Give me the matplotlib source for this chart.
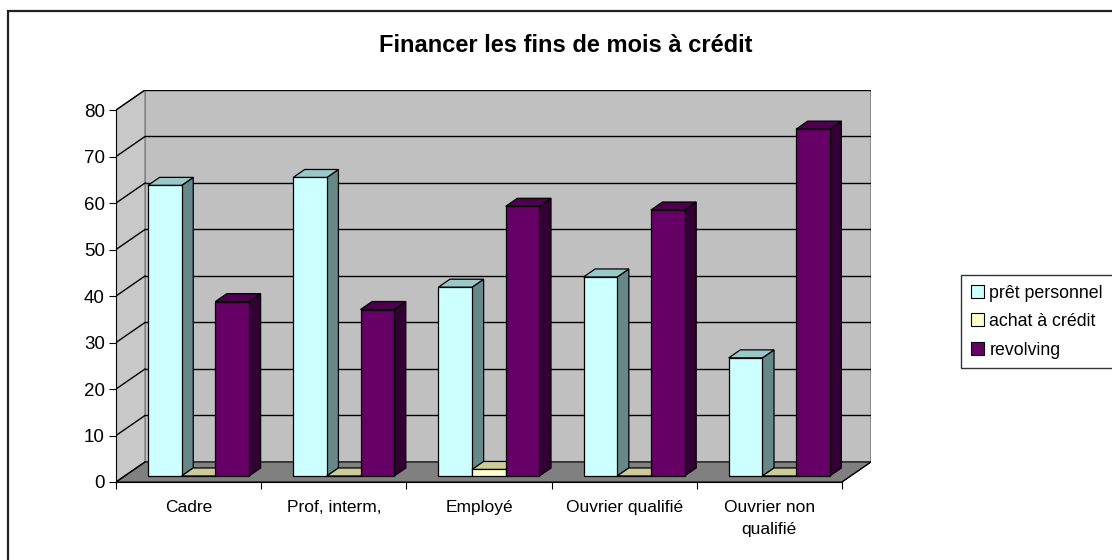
import matplotlib
matplotlib.use("Agg")
import matplotlib.pyplot as plt
from matplotlib.patches import Polygon, Rectangle, Patch

plt.rcParams['font.family'] = ['Liberation Sans', 'DejaVu Sans']

# ---- data ----
categories = ["Cadre", "Prof, interm,", "Employé", "Ouvrier qualifié", "Ouvrier non\nqualifié"]
series_names = ["prêt personnel", "achat à crédit", "revolving"]
pret_personnel = [62.5, 64.2, 40.6, 42.8, 25.4]
achat_credit = [0.0, 0.0, 1.4, 0.0, 0.0]
revolving = [37.5, 35.8, 58.0, 57.2, 74.6]
yticks = [0, 10, 20, 30, 40, 50, 60, 70, 80]
title = "Financer les fins de mois à crédit"

series_values = [pret_personnel, achat_credit, revolving]
front_colors = ["#CCFFFF", "#FFFFCC", "#660066"]
side_colors = ["#668888", "#999966", "#330033"]
top_colors = ["#99C8C8", "#CCCC99", "#4D004D"]

W, H = 1112, 560
fig = plt.figure(figsize=(W / 100, H / 100), dpi=100)

# axes positioned in pixel terms: front-left-bottom (116,482), back-top (871,90)
ax_l, ax_r, ax_t, ax_b = 116, 871, 90, 482
ax = fig.add_axes([ax_l / W, 1 - ax_b / H, (ax_r - ax_l) / W, (ax_b - ax_t) / H])

n = len(categories)
ymax = yticks[-1]
DX = 0.2      # depth offset in category units
DY = 4.31     # depth offset in value units
ax.set_xlim(0, n + DX)
ax.set_ylim(0, ymax + DY)
ax.patch.set_visible(False)

# walls and floor
ax.add_patch(Rectangle((DX, DY), n, ymax, facecolor="#C0C0C0", edgecolor="#808080", lw=1.2, zorder=1))
ax.add_patch(Polygon([(0, 0), (DX, DY), (DX, ymax + DY), (0, ymax)], closed=True,
                     facecolor="#C8C8C8", edgecolor="#808080", lw=1.0, zorder=1))
ax.add_patch(Polygon([(0, 0), (n, 0), (n + DX, DY), (DX, DY)], closed=True,
                     facecolor="#808080", edgecolor="#000000", lw=0.8, zorder=1))

# gridlines on back wall and side wall
for v in yticks[1:]:
    ax.plot([DX, n + DX], [v + DY, v + DY], color="#000000", lw=1.0, zorder=2)
    ax.plot([0, DX], [v, v + DY], color="#000000", lw=1.0, zorder=2)
ax.plot([0, DX], [0, DY], color="#000000", lw=1.0, zorder=2)

# bars
off = 0.16
bw = 0.232
d0, d1 = 0.3, 0.7
z = 3
for i in range(n):
    for j, vals in enumerate(series_values):
        v = vals[i]
        xl = i + off + j * bw
        fx, fy = xl + d0 * DX, d0 * DY
        bx, by = xl + d1 * DX, d1 * DY
        # side face
        ax.add_patch(Polygon([(fx + bw, fy), (bx + bw, by), (bx + bw, by + v), (fx + bw, fy + v)],
                             closed=True, facecolor=side_colors[j], edgecolor="#000000",
                             lw=0.9, zorder=z, joinstyle="miter"))
        # top face
        ax.add_patch(Polygon([(fx, fy + v), (fx + bw, fy + v), (bx + bw, by + v), (bx, by + v)],
                             closed=True, facecolor=top_colors[j], edgecolor="#000000",
                             lw=0.9, zorder=z + 0.1, joinstyle="miter"))
        # front face
        ax.add_patch(Rectangle((fx, fy), bw, v, facecolor=front_colors[j], edgecolor="#000000",
                               lw=0.9, zorder=z + 0.2))
        z += 1

# front axes
for s in ["top", "right"]:
    ax.spines[s].set_visible(False)
ax.spines["left"].set_bounds(0, ymax)
ax.spines["bottom"].set_bounds(0, n)
ax.spines["left"].set_color("#000000")
ax.spines["bottom"].set_color("#000000")
ax.spines["left"].set_zorder(50)
ax.spines["bottom"].set_zorder(50)
ax.plot([n, n + DX], [0, DY], color="#000000", lw=0.8, zorder=2)

ax.set_yticks(yticks)
ax.set_yticklabels([str(t) for t in yticks])
ax.tick_params(axis="y", direction="out", length=5, width=0.8, pad=3, labelsize=13.5)
ax.set_xticks(range(n + 1))
ax.set_xticklabels([])
ax.set_xticks([i + 0.5 for i in range(n)], minor=True)
ax.set_xticklabels(categories, minor=True, fontsize=12.5, linespacing=1.55)
ax.tick_params(axis="x", which="major", direction="out", length=5, width=0.8)
ax.tick_params(axis="x", which="minor", length=0, pad=13)

# title
fig.text(566 / W, 1 - 45 / H, title, ha="center", va="center", fontsize=17, fontweight="bold")

# legend
handles = [Patch(facecolor=c, edgecolor="#000000", lw=0.8) for c in front_colors]
leg = fig.legend(handles, series_names, loc="upper left",
                 bbox_to_anchor=(961 / W, 1 - 275 / H), fontsize=12.8,
                 frameon=True, fancybox=False, edgecolor="#000000",
                 handlelength=0.75, handleheight=0.75, handletextpad=0.3,
                 labelspacing=0.64, borderpad=0.55, borderaxespad=0)
leg.get_frame().set_linewidth(1.0)

# outer chart border (extends past right/bottom edges)
fig.patches.append(Rectangle((8 / W, -0.05), 1.2, 1.05 - 10.5 / H, transform=fig.transFigure,
                             fill=False, edgecolor="#222222", lw=1.6, zorder=0))

fig.savefig("out.png", dpi=100)
